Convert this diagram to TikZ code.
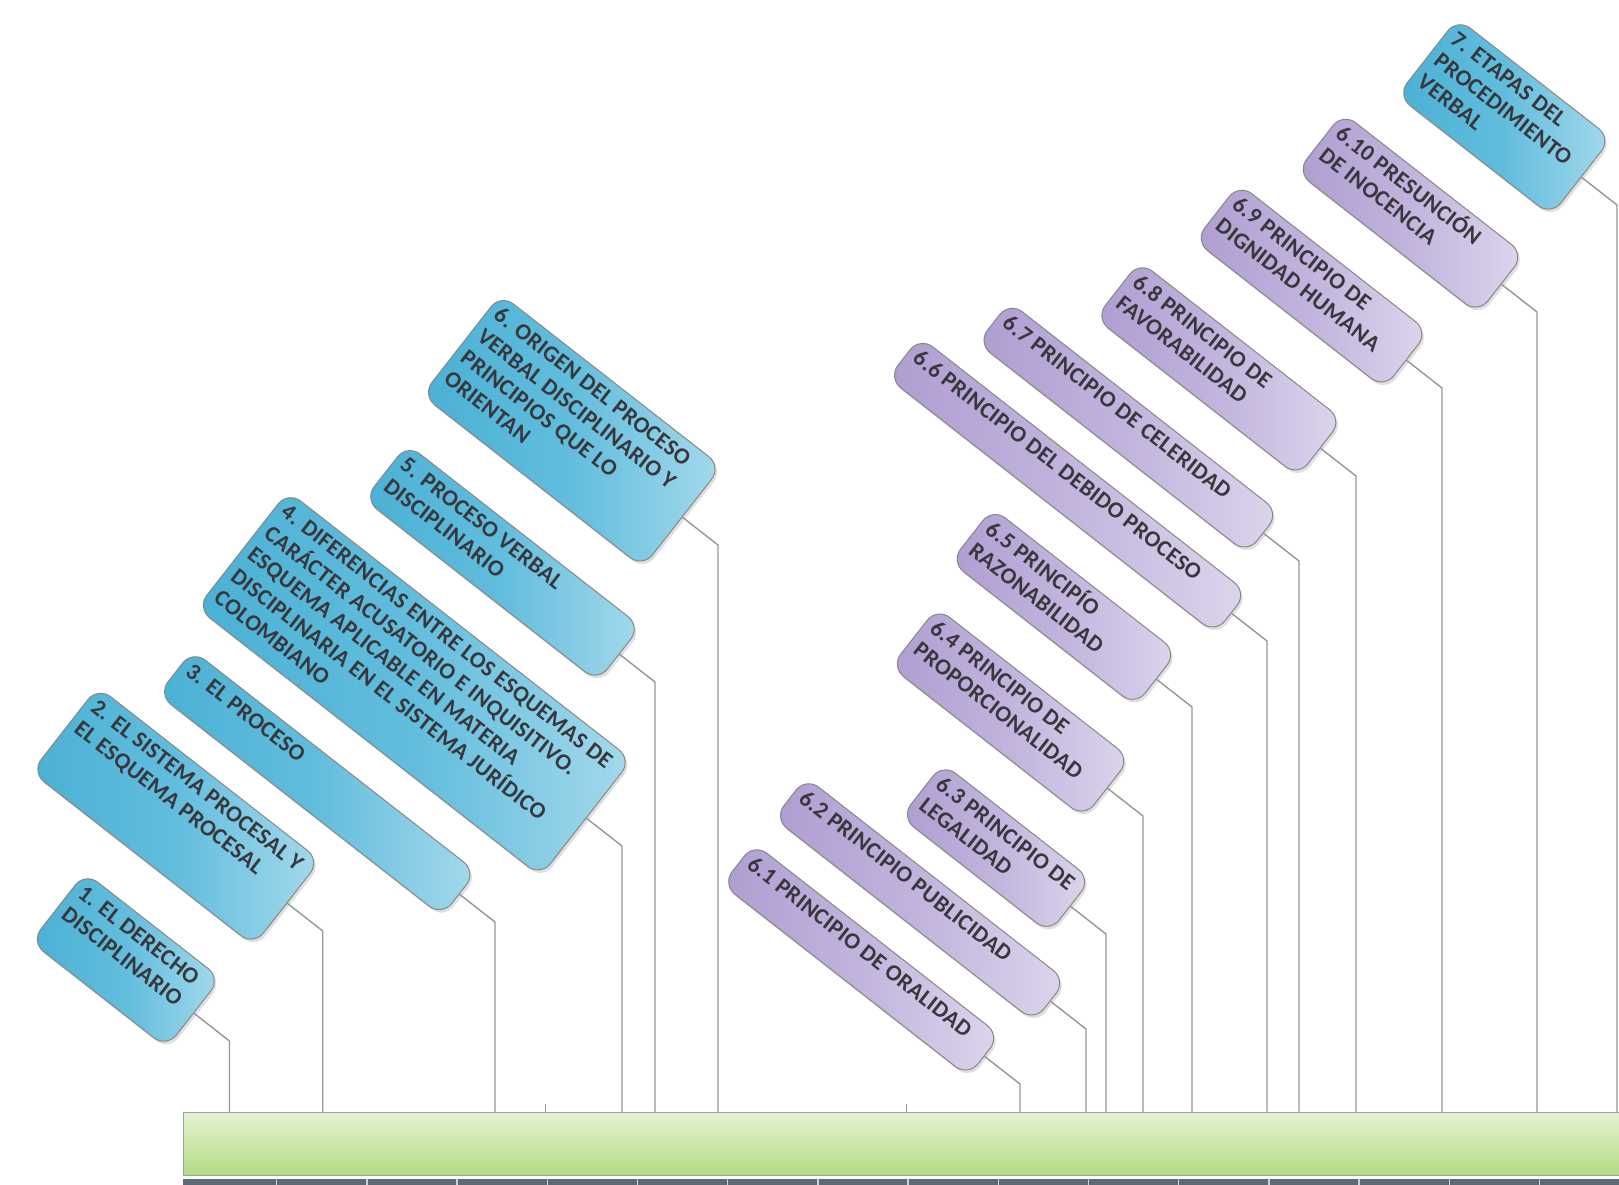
\documentclass[tikz,border=0pt]{standalone}
\usepackage{fontspec}
\setmainfont{Carlito}[LetterSpace=1.5]
\usetikzlibrary{shadows}

\definecolor{azulA}{RGB}{52,164,204}
\definecolor{azulB}{RGB}{98,189,221}
\definecolor{azulC}{RGB}{230,245,251}
\definecolor{lilaA}{RGB}{156,134,197}
\definecolor{lilaB}{RGB}{194,180,221}
\definecolor{lilaC}{RGB}{248,246,252}
\definecolor{verdeA}{RGB}{160,212,100}
\definecolor{verdeB}{RGB}{242,249,236}
\definecolor{verdeC}{RGB}{214,238,190}
\definecolor{borde}{RGB}{135,135,135}
\definecolor{linea}{RGB}{150,150,150}
\definecolor{textogris}{RGB}{55,55,60}
\definecolor{franja}{RGB}{92,106,120}

\pgfdeclarehorizontalshading{azul}{100bp}{color(0bp)=(azulA); color(50bp)=(azulB); color(100bp)=(azulC)}
\pgfdeclarehorizontalshading{lila}{100bp}{color(0bp)=(lilaA); color(50bp)=(lilaB); color(100bp)=(lilaC)}
\pgfdeclareverticalshading{verde}{100bp}{color(0bp)=(verdeC); color(8bp)=(verdeA); color(88bp)=(verdeB); color(100bp)=(white)}

\newcommand{\cajatexto}[3]{\parbox[c][\dimexpr#2pt-10pt\relax][t]{\dimexpr#1pt-16pt\relax}{\begin{tabular}{@{}l@{}}#3\end{tabular}}}

\tikzset{caja/.style={rectangle,rounded corners=16pt,draw=borde,line width=1pt,inner xsep=8pt,inner ysep=5pt,anchor=east,rotate=-38,text=textogris,font=\bfseries\fontsize{23}{27}\selectfont,drop shadow={opacity=0.25,shadow xshift=2pt,shadow yshift=-3pt}}}
\tikzset{az/.style={caja,shading=azul}}
\tikzset{li/.style={caja,shading=lila}}
\tikzset{conector/.style={draw=linea,line width=1.4pt}}
\tikzset{barra/.style={rectangle,anchor=north west,minimum width=1460pt,minimum height=63pt,inner sep=0pt,shading=verde,draw=borde!80,line width=1pt}}

\begin{document}
\begin{tikzpicture}[x=1pt,y=1pt]
\useasboundingbox (0,0) rectangle (1619,1185);
\clip (0,0) rectangle (1619,1185);

% barra de tiempo
\node[barra] (bar) at (183,73) {};
\fill[franja] (183,0) rectangle (1640,6);
\foreach \k in {0,...,14}
  \draw[white!70!franja,line width=1.5pt] (276.7+90.2*\k,0) -- ++(0,6);
\foreach \x in {545.5,906}
  \draw[conector,line width=1pt] (\x,73) -- ++(0,8);

% temas
\node[az] (b1) at (194,171.7) {\cajatexto{172}{88}{1. EL DERECHO\\DISCIPLINARIO}};
\node[az] (b2) at (287.3,281.7) {\cajatexto{282}{108}{2. EL SISTEMA PROCESAL Y\\EL ESQUEMA PROCESAL}};
\node[az] (b3) at (459.5,290.7) {\cajatexto{360}{56}{3. EL PROCESO}};
\node[az] (b4) at (586.5,366.7) {\cajatexto{436}{148}{4. DIFERENCIAS ENTRE LOS ESQUEMAS DE\\CARÁCTER ACUSATORIO E INQUISITIVO.\\ESQUEMA APLICABLE EN MATERIA\\DISCIPLINARIA EN EL SISTEMA JURÍDICO\\COLOMBIANO}};
\node[az] (b5) at (619.5,530.7) {\cajatexto{296}{70}{5. PROCESO VERBAL\\DISCIPLINARIO}};
\node[az] (b6) at (682.5,667.7) {\cajatexto{280}{128}{6. ORIGEN DEL PROCESO\\VERBAL DISCIPLINARIO Y\\PRINCIPIOS QUE LO\\ORIENTAN}};

% principios
\node[li] (b61) at (984.5,128.7) {\cajatexto{312}{52}{6.1 PRINCIPIO DE ORALIDAD}};
\node[li] (b62) at (1050.5,183.7) {\cajatexto{330}{52}{6.2 PRINCIPIO PUBLICIDAD}};
\node[li] (b63) at (1070.5,278.7) {\cajatexto{188}{68}{6.3 PRINCIPIO DE\\LEGALIDAD}};
\node[li] (b64) at (1107.5,396.7) {\cajatexto{245}{75}{6.4 PRINCIPIO DE\\PROPORCIONALIDAD}};
\node[li] (b65) at (1156.5,505.7) {\cajatexto{234}{68}{6.5 PRINCIPÍO\\RAZONABILIDAD}};
\node[li] (b66) at (1231.5,571.7) {\cajatexto{415}{52}{6.6 PRINCIPIO DEL DEBIDO PROCESO}};
\node[li] (b67) at (1263.5,651.7) {\cajatexto{342}{52}{6.7 PRINCIPIO DE CELERIDAD}};
\node[li] (b68) at (1320.5,736.7) {\cajatexto{257}{72}{6.8 PRINCIPIO DE\\FAVORABILIDAD}};
\node[li] (b69) at (1406.5,824.7) {\cajatexto{240}{72}{6.9 PRINCIPIO DE\\DIGNIDAD HUMANA}};
\node[li] (b610) at (1501.5,900.7) {\cajatexto{230}{75}{6.10 PRESUNCIÓN\\DE INOCENCIA}};

\node[az] (b7) at (1581.5,1007.7) {\cajatexto{195}{98}{7. ETAPAS DEL\\PROCEDIMIENTO\\VERBAL}};

% conectores
\foreach \n in {b1,b2,b3,b4,b5,b6,b61,b62,b63,b64,b65,b66,b67,b68,b69,b610,b7}
  \draw[conector] (\n.east) -- ++(-38:45) coordinate (codo) -- (codo |- bar.north);
\end{tikzpicture}
\end{document}
